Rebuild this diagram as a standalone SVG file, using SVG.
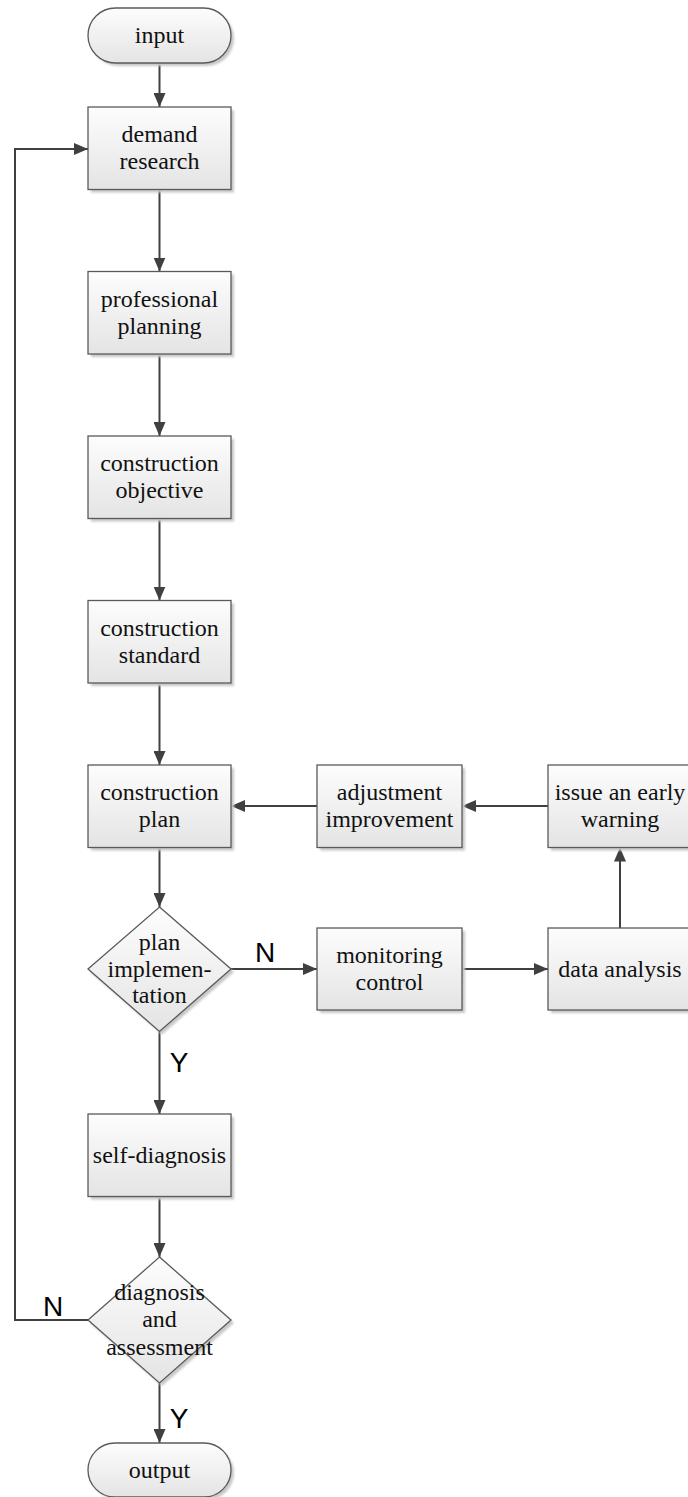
<svg xmlns="http://www.w3.org/2000/svg" width="688" height="1497" viewBox="0 0 688 1497">
<defs>
<linearGradient id="g" x1="0" y1="0" x2="0" y2="1">
<stop offset="0" stop-color="#fdfdfd"/>
<stop offset="1" stop-color="#e4e4e4"/>
</linearGradient>
<filter id="blur" x="-10%" y="-10%" width="130%" height="130%"><feGaussianBlur stdDeviation="1.2"/></filter>
<marker id="arr" markerUnits="userSpaceOnUse" markerWidth="14" markerHeight="12" refX="14" refY="6" orient="auto">
<path d="M0,0 L14,6 L0,12 z" fill="#404040"/>
</marker>
<style>
.sh{fill:#c8c8c8;filter:url(#blur)}
.nd{fill:url(#g);stroke:#5a5a5a;stroke-width:1.3}
.t{font-family:"Liberation Serif","Times New Roman",serif;font-size:24px;fill:#111;text-anchor:middle}
.lb{font-family:"Liberation Sans",Arial,sans-serif;font-size:28px;fill:#000;text-anchor:middle}
.c{fill:none;stroke:#404040;stroke-width:2}
</style>
</defs>

<g id="connectors">
<line class="c" x1="159.5" y1="63" x2="159.5" y2="107" marker-end="url(#arr)"/>
<line class="c" x1="159.5" y1="189.5" x2="159.5" y2="271.5" marker-end="url(#arr)"/>
<line class="c" x1="159.5" y1="354" x2="159.5" y2="436" marker-end="url(#arr)"/>
<line class="c" x1="159.5" y1="518.5" x2="159.5" y2="600.5" marker-end="url(#arr)"/>
<line class="c" x1="159.5" y1="683" x2="159.5" y2="765" marker-end="url(#arr)"/>
<line class="c" x1="159.5" y1="847.5" x2="159.5" y2="907" marker-end="url(#arr)"/>
<line class="c" x1="231" y1="969" x2="317" y2="969" marker-end="url(#arr)"/>
<line class="c" x1="462" y1="969" x2="548" y2="969" marker-end="url(#arr)"/>
<line class="c" x1="620" y1="928" x2="620" y2="847.5" marker-end="url(#arr)"/>
<line class="c" x1="548" y1="806" x2="462" y2="806" marker-end="url(#arr)"/>
<line class="c" x1="317" y1="806" x2="231" y2="806" marker-end="url(#arr)"/>
<line class="c" x1="159.5" y1="1031.5" x2="159.5" y2="1114" marker-end="url(#arr)"/>
<line class="c" x1="159.5" y1="1196.5" x2="159.5" y2="1257" marker-end="url(#arr)"/>
<line class="c" x1="159.5" y1="1383" x2="159.5" y2="1443" marker-end="url(#arr)"/>
<polyline class="c" points="88,1320 15,1320 15,149 88,149" marker-end="url(#arr)"/>
<text class="lb" x="265" y="962">N</text>
<text class="lb" x="179" y="1072">Y</text>
<text class="lb" x="53" y="1316">N</text>
<text class="lb" x="179" y="1428">Y</text>
</g>

<g id="input">
<rect class="sh" x="91" y="11" width="143" height="55" rx="27.5"/>
<rect class="nd" x="88" y="8" width="143" height="55" rx="27.5"/>
<text class="t" x="159.5" y="43">input</text>
</g>

<g id="demand-research">
<rect class="sh" x="91" y="110" width="143" height="82.5"/>
<rect class="nd" x="88" y="107" width="143" height="82.5"/>
<text class="t" x="159.5" y="142">demand</text>
<text class="t" x="159.5" y="169">research</text>
</g>

<g id="professional-planning">
<rect class="sh" x="91" y="274.5" width="143" height="82.5"/>
<rect class="nd" x="88" y="271.5" width="143" height="82.5"/>
<text class="t" x="159.5" y="306.5">professional</text>
<text class="t" x="159.5" y="333.5">planning</text>
</g>

<g id="construction-objective">
<rect class="sh" x="91" y="439" width="143" height="82.5"/>
<rect class="nd" x="88" y="436" width="143" height="82.5"/>
<text class="t" x="159.5" y="471">construction</text>
<text class="t" x="159.5" y="498">objective</text>
</g>

<g id="construction-standard">
<rect class="sh" x="91" y="603.5" width="143" height="82.5"/>
<rect class="nd" x="88" y="600.5" width="143" height="82.5"/>
<text class="t" x="159.5" y="635.5">construction</text>
<text class="t" x="159.5" y="662.5">standard</text>
</g>

<g id="construction-plan">
<rect class="sh" x="91" y="768" width="143" height="82.5"/>
<rect class="nd" x="88" y="765" width="143" height="82.5"/>
<text class="t" x="159.5" y="800">construction</text>
<text class="t" x="159.5" y="827">plan</text>
</g>

<g id="adjustment-improvement">
<rect class="sh" x="320" y="768" width="145" height="82.5"/>
<rect class="nd" x="317" y="765" width="145" height="82.5"/>
<text class="t" x="389.5" y="800">adjustment</text>
<text class="t" x="389.5" y="827">improvement</text>
</g>

<g id="issue-warning">
<rect class="sh" x="551" y="768" width="144" height="82.5"/>
<rect class="nd" x="548" y="765" width="144" height="82.5"/>
<text class="t" x="620" y="800">issue an early</text>
<text class="t" x="620" y="827">warning</text>
</g>

<g id="plan-implementation">
<polygon class="sh" points="162,910 234,972 162,1034.5 90,972"/>
<polygon class="nd" points="159.5,907 231,969 159.5,1031.5 88,969"/>
<text class="t" x="159.5" y="950">plan</text>
<text class="t" x="159.5" y="977">implemen-</text>
<text class="t" x="159.5" y="1003">tation</text>
</g>

<g id="monitoring-control">
<rect class="sh" x="320" y="931" width="145" height="82"/>
<rect class="nd" x="317" y="928" width="145" height="82"/>
<text class="t" x="389.5" y="963">monitoring</text>
<text class="t" x="389.5" y="990">control</text>
</g>

<g id="data-analysis">
<rect class="sh" x="551" y="931" width="144" height="82"/>
<rect class="nd" x="548" y="928" width="144" height="82"/>
<text class="t" x="620" y="977">data analysis</text>
</g>

<g id="self-diagnosis">
<rect class="sh" x="91" y="1117" width="143" height="82.5"/>
<rect class="nd" x="88" y="1114" width="143" height="82.5"/>
<text class="t" x="159.5" y="1163">self-diagnosis</text>
</g>

<g id="diagnosis-assessment">
<polygon class="sh" points="162,1260 234,1323 162,1386 90,1323"/>
<polygon class="nd" points="159.5,1257 231,1320 159.5,1383 88,1320"/>
<text class="t" x="159.5" y="1300">diagnosis</text>
<text class="t" x="159.5" y="1327">and</text>
<text class="t" x="159.5" y="1355">assessment</text>
</g>

<g id="output">
<rect class="sh" x="91" y="1446" width="143" height="54" rx="27"/>
<rect class="nd" x="88" y="1443" width="143" height="54" rx="27"/>
<text class="t" x="159.5" y="1478">output</text>
</g>
</svg>
